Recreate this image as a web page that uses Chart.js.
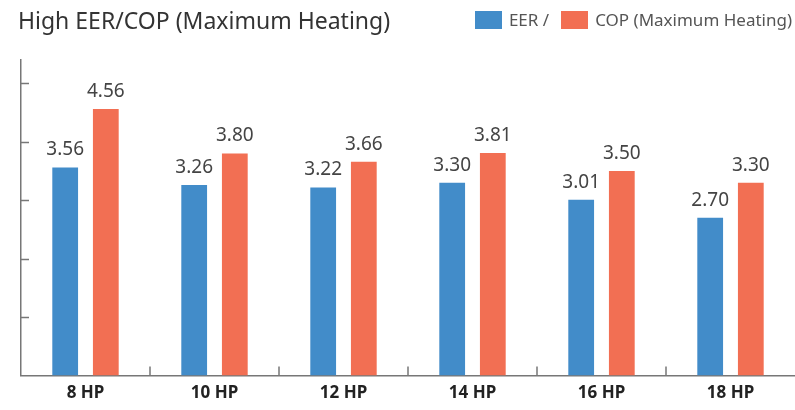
<!DOCTYPE html>
<html>
<head>
<meta charset="utf-8">
<script src="https://cdn.jsdelivr.net/npm/chart.js@4.4.0/dist/chart.umd.min.js"></script>
<style>
    html, body { margin: 0; padding: 0; background: #fff; }
    body { width: 795px; height: 410px; position: relative; overflow: hidden; font-family: "Noto Sans", "Open Sans", sans-serif; }
    #title { position: absolute; left: 18px; top: 4px; font-size: 23px; color: #333; white-space: nowrap; }
    #legend { position: absolute; right: 3px; top: 8px; font-size: 17px; color: #555; white-space: nowrap; display: flex; align-items: center; }
    #legend .box { display: inline-block; width: 27px; height: 18px; margin-right: 7px; }
    #legend .item { display: flex; align-items: center; margin-left: 12px; }
    #wrap { position: absolute; left: 0; top: 0; width: 795px; height: 410px; }
</style>
</head>
<body>
<div id="wrap"><canvas id="myChart"></canvas></div>
<div id="title">High EER/COP (Maximum Heating)</div>
<div id="legend"></div>
<script>
// chart data
var categories = ['8 HP', '10 HP', '12 HP', '14 HP', '16 HP', '18 HP'];
var seriesNames = ['EER /', 'COP (Maximum Heating)'];
var eerValues = [3.56, 3.26, 3.22, 3.30, 3.01, 2.70];
var copValues = [4.56, 3.80, 3.66, 3.81, 3.50, 3.30];
var yTicks = [1, 2, 3, 4, 5];

var blue = '#428cc9';
var orange = '#f26f53';
var axisColor = '#777';

// legend in html
var legendEl = document.getElementById('legend');
[blue, orange].forEach(function (c, i) {
    var item = document.createElement('span');
    item.className = 'item';
    item.innerHTML = '<span class="box" style="background:' + c + '"></span>' + seriesNames[i];
    legendEl.appendChild(item);
});

// short tick marks drawn inward from the axes
const innerTicks = {
    id: 'innerTicks',
    afterDraw(chart) {
        const ctx = chart.ctx;
        const x = chart.scales.x;
        const y = chart.scales.y;
        const area = chart.chartArea;
        ctx.save();
        ctx.strokeStyle = axisColor;
        ctx.lineWidth = 1.5;
        ctx.beginPath();
        yTicks.forEach(function (v) {
            const py = Math.round(y.getPixelForValue(v)) + 0.5;
            ctx.moveTo(area.left, py);
            ctx.lineTo(area.left + 8, py);
        });
        for (let i = 0; i < categories.length - 1; i++) {
            const px = Math.round((x.getPixelForValue(i) + x.getPixelForValue(i + 1)) / 2);
            ctx.moveTo(px, area.bottom);
            ctx.lineTo(px, area.bottom - 9);
        }
        ctx.stroke();
        ctx.restore();
    }
};

// value labels above the bars
const barLabels = {
    id: 'barLabels',
    afterDatasetsDraw(chart) {
        const ctx = chart.ctx;
        ctx.save();
        ctx.font = '19px "Noto Sans", "Open Sans", sans-serif';
        ctx.fillStyle = '#444';
        ctx.textAlign = 'center';
        ctx.textBaseline = 'bottom';
        chart.data.datasets.forEach(function (ds, di) {
            const meta = chart.getDatasetMeta(di);
            meta.data.forEach(function (bar, i) {
                ctx.fillText(ds.data[i].toFixed(2), bar.x, bar.y - 8);
            });
        });
        ctx.restore();
    }
};

const config = {
    type: 'bar',
    data: {
        labels: categories,
        datasets: [{
            label: seriesNames[0],
            data: eerValues,
            backgroundColor: blue,
            categoryPercentage: 0.63,
            barPercentage: 0.634
        }, {
            label: seriesNames[1],
            data: copValues,
            backgroundColor: orange,
            categoryPercentage: 0.63,
            barPercentage: 0.634
        }]
    },
    options: {
        responsive: true,
        maintainAspectRatio: false,
        animation: false,
        layout: {
            padding: { left: 21, top: 60, right: 0, bottom: 0 }
        },
        plugins: {
            legend: { display: false },
            tooltip: { enabled: false }
        },
        scales: {
            x: {
                grid: { display: false, tickLength: 0 },
                border: { display: true, color: axisColor, width: 1.5 },
                ticks: {
                    color: '#222',
                    padding: 7,
                    font: { family: '"Noto Sans", "Open Sans", sans-serif', size: 17, weight: 'bold' }
                }
            },
            y: {
                min: 0,
                max: 5.4,
                grid: { display: false, tickLength: 0 },
                border: { display: true, color: axisColor, width: 1.5 },
                ticks: { display: false }
            }
        }
    },
    plugins: [innerTicks, barLabels]
};

const myChart = new Chart(document.getElementById('myChart'), config);
</script>
</body>
</html>
